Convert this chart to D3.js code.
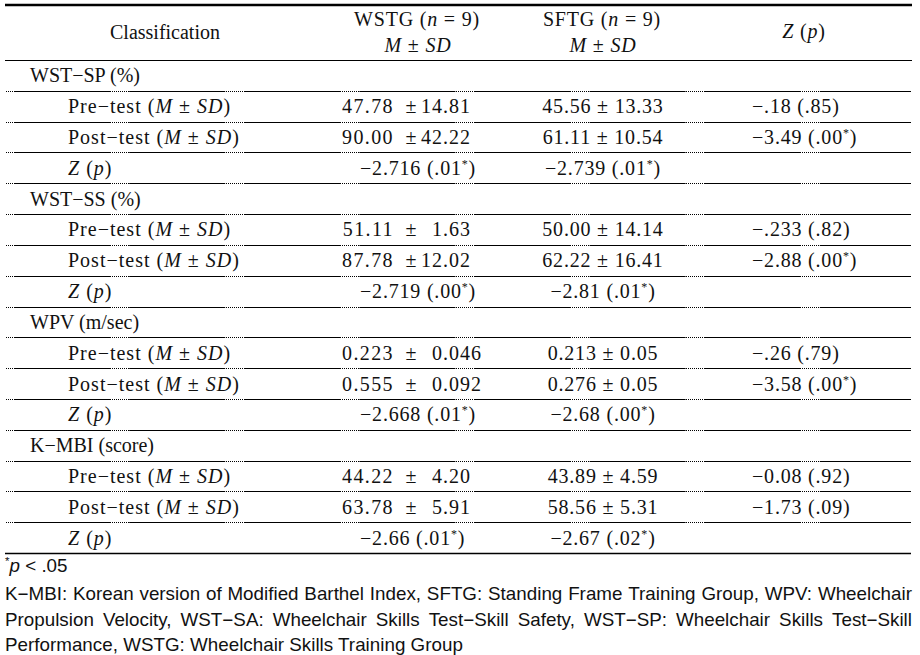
<!DOCTYPE html>
<html><head><meta charset="utf-8">
<script src="https://cdn.jsdelivr.net/npm/d3@7"></script>
<style>
html,body{margin:0;padding:0;background:#fff;}
svg{display:block;}
text{white-space:pre;}
</style></head><body>
<svg id="chart" width="920" height="655"></svg>
<script>
// ---------------- data ----------------
// markup: {italic}  ^superscript^
const headers = [
  ["Classification"],
  ["WSTG ({n} = 9)", "{M} ± {SD}"],
  ["SFTG ({n} = 9)", "{M} ± {SD}"],
  ["{Z} ({p})"]
];
const measures = ["WST−SP (%)", "WST−SS (%)", "WPV (m/sec)", "K−MBI (score)"];
const rowLabels = ["Pre−test ({M} ± {SD})", "Post−test ({M} ± {SD})", "{Z} ({p})"];
const wstgMean = [["47.78", "90.00"], ["51.11", "87.78"], ["0.223", "0.555"], ["44.22", "63.78"]];
const wstgSD   = [["14.81", "42.22"], ["1.63", "12.02"], ["0.046", "0.092"], ["4.20", "5.91"]];
const wstgZ    = ["−2.716 (.01^*^)", "−2.719 (.00^*^)", "−2.668 (.01^*^)", "−2.66 (.01^*^)"];
const sftgMSD  = [["45.56 ± 13.33", "61.11 ± 10.54"], ["50.00 ± 14.14", "62.22 ± 16.41"],
                  ["0.213 ± 0.05", "0.276 ± 0.05"], ["43.89 ± 4.59", "58.56 ± 5.31"]];
const sftgZ    = ["−2.739 (.01^*^)", "−2.81 (.01^*^)", "−2.68 (.00^*^)", "−2.67 (.02^*^)"];
const betweenZ = [["−.18 (.85)", "−3.49 (.00^*^)"], ["−.233 (.82)", "−2.88 (.00^*^)"],
                  ["−.26 (.79)", "−3.58 (.00^*^)"], ["−0.08 (.92)", "−1.73 (.09)"]];
const footnotes = [
  "^*^{p} < .05",
  "K−MBI: Korean version of Modified Barthel Index, SFTG: Standing Frame Training Group, WPV: Wheelchair",
  "Propulsion Velocity, WST−SA: Wheelchair Skills Test−Skill Safety, WST−SP: Wheelchair Skills Test−Skill",
  "Performance, WSTG: Wheelchair Skills Training Group"
];

// ---------------- layout ----------------
const svg = d3.select('#chart');
const W = 920, H = 655;
svg.append('rect').attr('width', W).attr('height', H).attr('fill', '#fff');
const FONT = "'Liberation Serif','Times New Roman',serif";
const FONT2 = "'Liberation Sans',Arial,sans-serif";
const INK = '#111';
const L = 5, R = 912;

const rows = [];
measures.forEach((m, g) => {
  rows.push({type: 'group', label: m});
  [0, 1].forEach(k => rows.push({type: 'ms', label: rowLabels[k], mean: wstgMean[g][k], sd: wstgSD[g][k],
                                 s: sftgMSD[g][k], z: betweenZ[g][k]}));
  rows.push({type: 'z', label: rowLabels[2], wz: wstgZ[g], s: sftgZ[g]});
});
const yRow = d3.scaleLinear().domain([0, rows.length]).range([60, 553]);

function rich(t, str, supSize) {
  const re = /\{([^}]*)\}|\^([^^]*)\^|([^{^]+)/g;
  let m, back = 0;
  while ((m = re.exec(str))) {
    let ts;
    if (m[1] !== undefined) ts = t.append('tspan').attr('font-style', 'italic').text(m[1]);
    else if (m[2] !== undefined) {
      ts = t.append('tspan').attr('font-size', supSize || 12).text(m[2]);
      ts.attr('dy', -7 + back); back = 7; continue;
    } else ts = t.append('tspan').text(m[3]);
    if (back) { ts.attr('dy', back); back = 0; }
  }
  return t;
}
function txt(x, y, str, anchor, ls) {
  const t = svg.append('text').attr('x', x).attr('y', y)
    .attr('font-family', FONT).attr('font-size', 20).attr('fill', INK)
    .attr('text-anchor', anchor || 'start').attr('letter-spacing', ls || 0);
  return rich(t, str);
}

// rules
svg.append('line').attr('x1', L).attr('x2', R).attr('y1', 5).attr('y2', 5)
  .attr('stroke', '#000').attr('stroke-width', 2.6);
svg.append('line').attr('x1', L).attr('x2', R).attr('y1', yRow(0) + 0.5).attr('y2', yRow(0) + 0.5)
  .attr('stroke', '#000').attr('stroke-width', 1);
d3.range(1, rows.length).forEach(i => {
  const y = Math.round(yRow(i)) + 0.5;
  svg.append('line').attr('x1', 6).attr('x2', 911).attr('y1', y).attr('y2', y)
    .attr('stroke', '#000').attr('stroke-width', 1).attr('stroke-dasharray', '1 1');
  svg.append('line').attr('x1', 6).attr('x2', 911).attr('y1', y).attr('y2', y)
    .attr('stroke', '#000').attr('stroke-width', 1.1)
    .attr('stroke-dasharray', '96 19.1').attr('stroke-dashoffset', 107);
});
svg.append('line').attr('x1', L).attr('x2', 911).attr('y1', yRow(rows.length) + 0.5).attr('y2', yRow(rows.length) + 0.5)
  .attr('stroke', '#000').attr('stroke-width', 1.3);

// header
txt(165, 39, headers[0][0], 'middle', 0);
txt(417, 26, headers[1][0], 'middle', 0.8);
txt(418, 52, headers[1][1], 'middle', 0.8);
txt(602, 26, headers[2][0], 'middle', 0.8);
txt(603, 52, headers[2][1], 'middle', 0.8);
txt(804, 38, headers[3][0], 'middle', 0.8);

// body
rows.forEach((r, i) => {
  const y = yRow(i + 0.5) + 7;
  if (r.type === 'group') { txt(30, y, r.label, 'start', 0); return; }
  txt(68, y, r.label, 'start', 1);
  if (r.type === 'ms') {
    txt(394, y, r.mean, 'end', 1.4);
    txt(411, y, '±', 'middle', 0);
    const p = r.sd.split('.');
    txt(443, y, p[0], 'end', 1);
    txt(443, y, '.' + p[1], 'start', 1);
    txt(603, y, r.s, 'middle', 0.8);
    txt(752, y, r.z, 'start', 0.8);
  } else {
    txt(360, y, r.wz, 'start', 0.8);
    txt(603, y, r.s, 'middle', 0.8);
  }
});

// footnotes
const fnY = [572, 600, 626, 651];
const fnG = svg.append('g');
function fnText(str, x) {
  const t = fnG.append('text').attr('x', x).attr('y', 0)
    .attr('font-family', FONT2).attr('font-size', 18).attr('fill', INK);
  return rich(t, str, 11);
}
// horizontal compression taken from the last (unjustified) line
const probe = fnText(footnotes[3], 0);
const natural = probe.node().getComputedTextLength();
probe.remove();
const sx = 458 / natural;
footnotes.forEach((f, i) => {
  const g = svg.append('g').attr('transform', `translate(${L},${fnY[i]}) scale(${sx},1)`);
  if (i === 1 || i === 2) {
    const words = f.split(' ');
    const ts = words.map(w => {
      const t = g.append('text').attr('font-family', FONT2).attr('font-size', 18).attr('fill', INK);
      return rich(t, w, 11);
    });
    const ws = ts.map(t => t.node().getComputedTextLength());
    const gap = ((R - L) / sx - d3.sum(ws)) / (words.length - 1);
    let x = 0;
    ts.forEach((t, k) => { t.attr('x', x); x += ws[k] + gap; });
  } else {
    const t = g.append('text').attr('x', 0).attr('y', 0)
      .attr('font-family', FONT2).attr('font-size', 18).attr('fill', INK);
    rich(t, f, 11);
  }
});
fnG.remove();
</script>
</body></html>
